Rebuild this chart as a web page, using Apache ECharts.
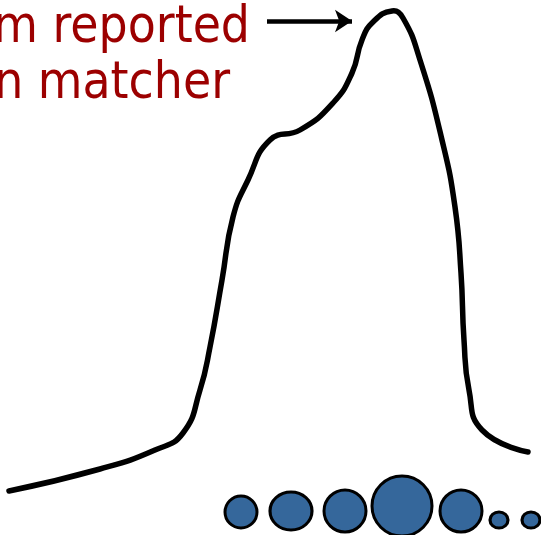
<!DOCTYPE html>
<html>
<head>
<meta charset="utf-8">
<script src="https://cdn.jsdelivr.net/npm/echarts@6/dist/echarts.min.js"></script>
<style>
  html, body { margin: 0; padding: 0; background: #fff; }
  #chart { width: 541px; height: 535px; }
</style>
</head>
<body>
<div id="chart"></div>
<script>
// curve: position along x, height above bottom
const curveX = [9, 100, 155, 183, 200, 210, 222, 233, 248, 270, 300, 333, 352, 362, 373, 392, 403, 420, 442, 455, 461, 464, 469, 482, 528];
const curveY = [44, 66, 85, 102, 145, 188, 255, 318, 355, 395, 405, 432, 462, 495, 513, 524, 517, 475, 395, 328, 262, 195, 145, 105, 83];

// blue dots along the bottom
const dotX = [241, 291, 345, 402, 461, 499, 531];
const dotY = [23, 24, 24, 29, 24, 15, 15];
const dotW = [32, 42, 42, 60, 42, 18, 18];
const dotH = [32, 38, 42, 60, 42, 16, 16];

// annotation text (cut off on the left)
const noteLines = ['m reported', 'n matcher'];

const chart = echarts.init(document.getElementById('chart'));

const noteFont = '51px "DejaVu Sans Condensed", "DejaVu Sans"';

// whole curve drawn as one smooth polyline
function renderCurve(params, api) {
  if (params.dataIndex !== 0) return null;
  const pts = curveX.map((x, i) => api.coord([x, curveY[i]]));
  return {
    type: 'polyline',
    shape: { points: pts, smooth: 0.5 },
    style: { fill: 'none', stroke: '#000', lineWidth: 5.5, lineCap: 'round', lineJoin: 'round' }
  };
}

const option = {
  animation: false,
  backgroundColor: '#fff',
  grid: { left: 0, right: 0, top: 0, bottom: 0 },
  xAxis: { type: 'value', min: 0, max: 541, show: false },
  yAxis: { type: 'value', min: 0, max: 535, show: false },
  series: [
    {
      type: 'custom',
      clip: false,
      silent: true,
      data: curveX.map((x, i) => [x, curveY[i]]),
      renderItem: renderCurve
    },
    {
      type: 'scatter',
      clip: false,
      data: dotX.map((x, i) => [x, dotY[i]]),
      symbolSize: (v, p) => [dotW[p.dataIndex], dotH[p.dataIndex]],
      itemStyle: { color: '#35679b', borderColor: '#000', borderWidth: 3, opacity: 1 },
      markLine: {
        silent: true,
        symbol: ['none', 'arrow'],
        symbolSize: [17, 17],
        label: { show: false },
        lineStyle: { color: '#000', width: 4.5, type: 'solid' },
        data: [[{ coord: [267, 514] }, { coord: [352, 514] }]]
      }
    }
  ],
  graphic: [
    {
      type: 'text',
      style: { text: noteLines[0], x: 250, y: 29, align: 'right', verticalAlign: 'middle', font: noteFont, fill: '#9c0000' }
    },
    {
      type: 'text',
      style: { text: noteLines[1], x: 230, y: 85, align: 'right', verticalAlign: 'middle', font: noteFont, fill: '#9c0000' }
    }
  ]
};

chart.setOption(option);
</script>
</body>
</html>
